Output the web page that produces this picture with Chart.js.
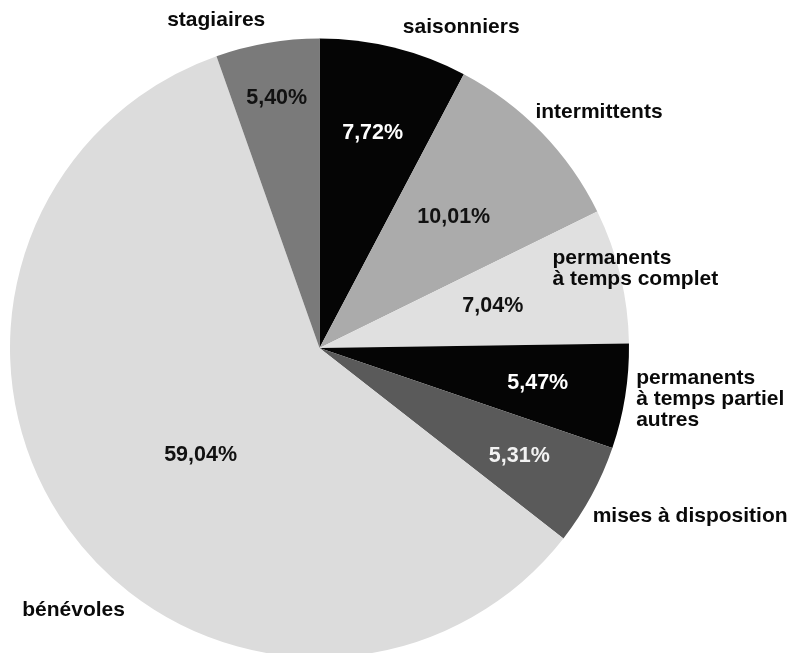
<!DOCTYPE html>
<html>
<head>
<meta charset="utf-8">
<script src="https://cdn.jsdelivr.net/npm/chart.js@4/dist/chart.umd.min.js"></script>
<style>
  html, body { margin: 0; padding: 0; background: #fff; }
  #wrap { width: 791px; height: 653px; overflow: hidden; position: relative; }
  canvas { display: block; }
</style>
</head>
<body>
<div id="wrap"><canvas id="pie" width="791" height="700"></canvas></div>
<script>
// categories, clockwise from 12 o'clock
const categories = [
  'saisonniers',
  'intermittents',
  'permanents\nà temps complet',
  'permanents\nà temps partiel\nautres',
  'mises à disposition',
  'bénévoles',
  'stagiaires'
]
const shares = [7.72, 10.01, 7.04, 5.47, 5.31, 59.04, 5.40]
const sliceColors = ['#050505', '#ababab', '#e0e0e0', '#050505', '#5a5a5a', '#dcdcdc', '#7a7a7a']
const valueColors = ['#fff', '#111', '#111', '#fff', '#f2f2f2', '#111', '#111']

// where each text sits, relative to the slice (fraction of radius along mid angle + nudge)
const valuePlacement = [
  { r: 0.715, dx: 0, dy: 0 },
  { r: 0.605, dx: 0, dy: 0 },
  { r: 0.576, dx: 0, dy: 0 },
  { r: 0.714, dx: 0, dy: 0 },
  { r: 0.734, dx: 0, dy: 0 },
  { r: 0.517, dx: 11, dy: 14 },
  { r: 0.819, dx: 0, dy: 0 }
]
const namePlacement = [
  { align: 'left', dx: 9, dy: -20 },
  { align: 'left', dx: -6, dy: -20 },
  { align: 'left', dx: -68, dy: -7 },
  { align: 'left', dx: 11, dy: 3 },
  { align: 'left', dx: 1, dy: 21 },
  { align: 'left', dx: -46, dy: 81 },
  { align: 'right', dx: -2, dy: -23 }
]

const NAME_FONT = 'bold 21px "Liberation Sans", Arial, Helvetica, sans-serif'
const VALUE_FONT = 'bold 21.5px "Liberation Sans", Arial, Helvetica, sans-serif'
const LINE = 21

let fmt = v => v.toFixed(2).replace('.', ',') + '%'

let pieLabels = {
  id: 'pieLabels',
  afterDatasetsDraw (chart) {
    let ctx = chart.ctx
    let meta = chart.getDatasetMeta(0)
    ctx.save()
    ctx.textBaseline = 'middle'
    meta.data.forEach((arc, i) => {
      let { x, y, startAngle, endAngle, outerRadius } = arc.getProps(['x', 'y', 'startAngle', 'endAngle', 'outerRadius'], true)
      let mid = (startAngle + endAngle) / 2
      let cos = Math.cos(mid)
      let sin = Math.sin(mid)

      // value inside the slice
      let vp = valuePlacement[i]
      ctx.font = VALUE_FONT
      ctx.fillStyle = valueColors[i]
      ctx.textAlign = 'center'
      ctx.fillText(fmt(shares[i]), x + cos * outerRadius * vp.r + vp.dx, y + sin * outerRadius * vp.r + vp.dy)

      // category name outside
      let np = namePlacement[i]
      let lines = categories[i].split('\n')
      let bx = x + cos * outerRadius + np.dx
      let by = y + sin * outerRadius + np.dy - (lines.length - 1) * LINE / 2
      ctx.font = NAME_FONT
      ctx.fillStyle = '#0a0a0a'
      ctx.textAlign = np.align
      lines.forEach((t, j) => ctx.fillText(t, bx, by + j * LINE))
    })
    ctx.restore()
  }
}

new Chart(document.getElementById('pie'), {
  type: 'pie',
  data: {
    labels: categories,
    datasets: [{
      data: shares,
      backgroundColor: sliceColors,
      borderWidth: 0,
      hoverOffset: 0
    }]
  },
  options: {
    responsive: false,
    animation: false,
    layout: { padding: { left: 10, right: 162, top: 38.5, bottom: 42.5 } },
    plugins: {
      legend: { display: false },
      tooltip: { enabled: false }
    }
  },
  plugins: [pieLabels]
})
</script>
</body>
</html>
